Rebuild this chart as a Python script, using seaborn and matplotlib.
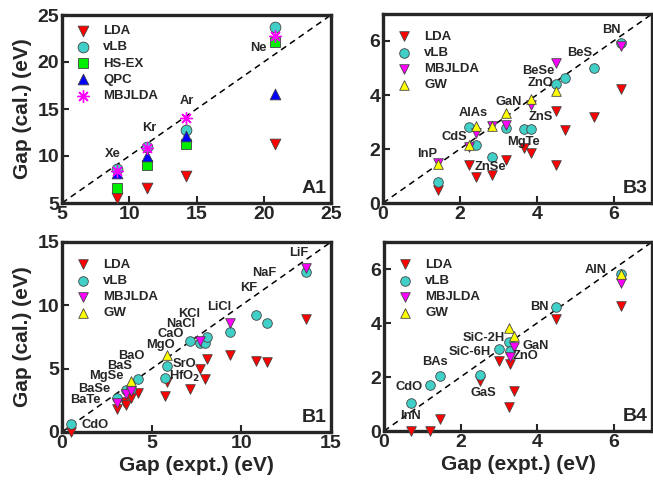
import numpy as np
import matplotlib
matplotlib.use("Agg")
import matplotlib.pyplot as plt
import seaborn as sns

nan = np.nan

# ---------------- data ----------------
# A1 : rare gases
a1_names = ["Xe", "Kr", "Ar", "Ne"]
a1_expt = [9.1, 11.3, 14.2, 20.8]
a1_lda = [5.5, 6.6, 7.9, 11.3]
a1_vlb = [8.65, 11.0, 12.8, 23.7]
a1_hsex = [6.6, 9.0, 11.3, 22.1]
a1_qpc = [8.2, 10.05, 12.1, 16.6]
a1_mbj = [8.4, 10.9, 14.0, 22.8]
a1_lab_x = [8.8, 11.5, 14.3, 19.6]
a1_lab_y = [10.2, 12.96, 15.8, 21.5]

# B3 : zinc-blende
b3_expt = [1.42, 2.23, 2.43, 2.83, 3.2, 3.67, 3.84, 4.49, 4.49, 4.73, 5.5, 6.19]
b3_lda = [0.5, 1.4, 0.97, 1.03, 1.59, 2.04, 1.86, 3.4, 1.4, 2.72, 3.19, 4.22]
b3_vlb = [0.78, 2.82, 2.14, 1.69, 2.76, 2.74, 2.74, 4.4, nan, 4.64, 5.01, 5.92]
b3_mbj = [1.5, 2.08, 2.61, 2.87, 2.89, nan, 3.63, 5.17, nan, nan, nan, 5.82]
b3_gw = [1.45, 2.14, 2.85, 2.87, 3.32, nan, 3.85, 4.16, nan, nan, nan, nan]
b3_labels = ["BN", "BeS", "BeSe", "ZnO", "GaN", "ZnS", "AlAs", "CdS", "MgTe", "InP", "ZnSe"]
b3_lab_x = [5.95, 5.13, 4.05, 4.1, 3.26, 4.1, 2.35, 1.85, 3.66, 1.16, 2.8]
b3_lab_y = [6.41, 5.57, 4.9, 4.43, 3.75, 3.19, 3.32, 2.45, 2.26, 1.81, 1.34]

# B1 : rock-salt
b1_expt = [0.5, 3.05, 3.45, 3.55, 3.85, 4.22, 5.75, 5.85, 7.11, 7.71, 7.99, 8.08, 9.35, 10.84, 11.44, 13.6]
b1_lda = [0.02, 1.8, 2.35, 2.15, 2.7, 3.1, 2.85, 3.97, 3.37, 4.95, 4.16, 5.74, 6.08, 5.63, 5.5, 8.92]
b1_vlb = [0.6, 2.7, nan, 3.3, 3.4, 4.15, 4.3, 5.2, 7.2, 7.0, 7.0, 7.47, 7.87, 9.23, 8.63, 12.63]
b1_mbj = [nan, 2.27, nan, 3.0, 3.2, nan, nan, nan, nan, 7.2, nan, nan, 8.63, nan, nan, 12.97]
b1_gw = [nan, nan, nan, nan, 4.05, nan, nan, 6.08, nan, nan, nan, nan, nan, nan, nan, nan]
b1_labels = ["LiF", "NaF", "KF", "LiCl", "KCl", "NaCl", "CaO", "MgO", "BaO", "BaS",
             "MgSe", "BaSe", "BaTe", "CdO", "SrO", "HfO$_2$"]
b1_lab_x = [13.2, 11.27, 10.43, 8.75, 7.08, 6.61, 6.05, 5.49, 3.87, 3.2, 2.48, 1.82, 1.3, 1.86, 6.85, 6.85]
b1_lab_y = [14.1, 12.55, 11.37, 9.87, 9.29, 8.5, 7.71, 6.84, 6.0, 5.21, 4.39, 3.42, 2.55, 0.58, 5.39, 4.39]

# B4 : wurtzite
b4_expt = [0.7, 1.19, 1.47, 2.52, 3.0, 3.27, 3.3, 3.4, 4.5, 6.19]
b4_lda = [0.0, 0.0, 0.43, 1.85, 2.6, 0.89, 2.48, 1.5, 4.13, 4.63]
b4_vlb = [1.02, 1.69, 2.03, 2.08, 3.03, 3.28, 2.98, nan, 4.6, 5.83]
b4_mbj = [nan, nan, nan, nan, nan, nan, 2.73, 3.1, nan, 5.48]
b4_gw = [nan, nan, nan, nan, nan, 3.8, nan, 3.52, nan, 5.8]
b4_labels = ["AlN", "BN", "SiC-2H", "GaN", "SiC-6H", "ZnO", "BAs", "CdO", "GaS", "InN"]
b4_lab_x = [5.54, 4.05, 2.6, 3.96, 2.23, 3.7, 1.34, 0.65, 2.6, 0.69]
b4_lab_y = [5.95, 4.59, 3.46, 3.16, 2.91, 2.77, 2.55, 1.63, 1.41, 0.56]

# ---------------- style ----------------
sns.set_style("ticks")
plt.rcParams["font.family"] = ["Liberation Sans", "DejaVu Sans"]
plt.rcParams["font.weight"] = "bold"
plt.rcParams["axes.labelweight"] = "bold"

C_LDA = "#ff0000"
C_VLB = "#40d0c8"
C_HS = "#00ee00"
C_QPC = "#0000ff"
C_MBJ = "#ff00ff"
C_GW = "#ffff00"
EDGE = "#444444"

fig = plt.figure(figsize=(6.53, 4.83), dpi=100)
W, H = 653.0, 483.0


def mkax(l, r, t, b):
    return fig.add_axes([l / W, 1 - b / H, (r - l) / W, (b - t) / H])


axA1 = mkax(62, 331, 15, 203)
axB3 = mkax(383, 652, 14, 203)
axB1 = mkax(62, 331, 242, 432)
axB4 = mkax(384, 652, 242, 431)


def scat(ax, x, y, color, marker, label, s, lw=0.6, ec=EDGE):
    sns.scatterplot(x=np.asarray(x, float), y=np.asarray(y, float), ax=ax, color=color,
                    marker=marker, s=s, edgecolor=ec, linewidth=lw, label=label,
                    clip_on=False, zorder=3, legend=False)


def style_ax(ax, lim, ticks, tag):
    ax.set_xlim(*lim)
    ax.set_ylim(*lim)
    ax.set_xticks(ticks)
    ax.set_yticks(ticks)
    ax.plot(lim, lim, ls=(0, (4, 3)), color="black", lw=1.1, zorder=2)
    for sp in ax.spines.values():
        sp.set_visible(True)
        sp.set_linewidth(2.4)
    ax.tick_params(direction="in", length=5, width=1.5, labelsize=14, pad=2)
    for t in ax.get_xticklabels() + ax.get_yticklabels():
        t.set_fontweight("bold")
    ax.text(0.985, 0.03, tag, transform=ax.transAxes, ha="right", va="bottom",
            fontsize=14, fontweight="bold")


def legend(ax, top):
    ax.legend(loc="upper left", bbox_to_anchor=(0.035, top), frameon=False,
              borderaxespad=0, handlelength=1.0, handletextpad=1.0,
              labelspacing=0.3, prop={"size": 9.5, "weight": "bold"},
              scatterpoints=1)


def labels(ax, names, xs, ys):
    for n, x, y in zip(names, xs, ys):
        ax.text(x, y, n, ha="center", va="center", fontsize=9.3, fontweight="bold", zorder=5)


# A1
scat(axA1, a1_expt, a1_lda, C_LDA, "v", "LDA", 60)
scat(axA1, a1_expt, a1_vlb, C_VLB, "o", "vLB", 60)
scat(axA1, a1_expt, a1_hsex, C_HS, "s", "HS-EX", 45)
scat(axA1, a1_expt, a1_qpc, C_QPC, "^", "QPC", 60)
sns.scatterplot(x=a1_expt, y=a1_mbj, ax=axA1, color=C_MBJ, marker=(8, 2, 0), s=70,
                linewidth=1.0, label="MBJLDA", zorder=4, legend=False)
style_ax(axA1, (5, 25), [5, 10, 15, 20, 25], "A1")
labels(axA1, a1_names, a1_lab_x, a1_lab_y)
legend(axA1, 0.975)

# B panels
for ax, ex, lda, vlb, mbj, gw in [
    (axB3, b3_expt, b3_lda, b3_vlb, b3_mbj, b3_gw),
    (axB1, b1_expt, b1_lda, b1_vlb, b1_mbj, b1_gw),
    (axB4, b4_expt, b4_lda, b4_vlb, b4_mbj, b4_gw),
]:
    scat(ax, ex, lda, C_LDA, "v", "LDA", 48)
    scat(ax, ex, vlb, C_VLB, "o", "vLB", 48)
    scat(ax, ex, mbj, C_MBJ, "v", "MBJLDA", 48)
    scat(ax, ex, gw, C_GW, "^", "GW", 48)

style_ax(axB3, (0, 7), [0, 2, 4, 6], "B3")
style_ax(axB1, (0, 15), [0, 5, 10, 15], "B1")
style_ax(axB4, (0, 7), [0, 2, 4, 6], "B4")
labels(axB3, b3_labels, b3_lab_x, b3_lab_y)
labels(axB1, b1_labels, b1_lab_x, b1_lab_y)
labels(axB4, b4_labels, b4_lab_x, b4_lab_y)
legend(axB3, 0.94)
legend(axB1, 0.94)
legend(axB4, 0.94)

for ax in (axA1, axB3, axB1, axB4):
    ax.set_xlabel("")
    ax.set_ylabel("")
for ax in (axA1, axB1):
    ax.set_ylabel("Gap (cal.) (eV)", fontsize=15, fontweight="bold", labelpad=4)
for ax in (axB1, axB4):
    ax.set_xlabel("Gap (expt.) (eV)", fontsize=15, fontweight="bold", labelpad=3)

fig.savefig("out.png", dpi=100)
